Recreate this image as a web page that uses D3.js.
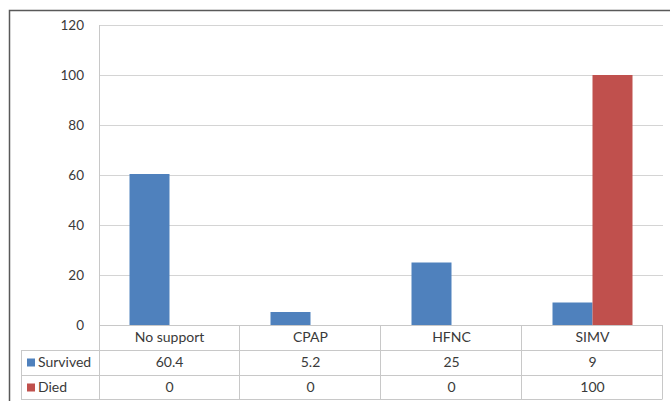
<!DOCTYPE html>
<meta charset="utf-8">
<style>
body { margin: 0; background: #fff; }
text { font-family: Lato, "Open Sans", sans-serif; fill: #3a3a3a; }
</style>
<body>
<script src="https://cdn.jsdelivr.net/npm/d3@7"></script>
<script>

var categories = ["No support", "CPAP", "HFNC", "SIMV"];
var seriesNames = ["Survived", "Died"];
var survived = [60.4, 5.2, 25, 9];
var died = [0, 0, 0, 100];
var yTicks = [0, 20, 40, 60, 80, 100, 120];

var colors = { Survived: "#4f81bd", Died: "#c0504d" };
var values = { Survived: survived, Died: died };

var width = 670, height = 401;
var plotLeft = 99, plotRight = 663, plotTop = 25, plotBottom = 325;
var rowH = 25, tableLeft = 21;

var svg = d3.select("body").append("svg")
    .attr("width", width)
    .attr("height", height);

// outer frame
svg.append("path")
    .attr("d", "M9.5," + height + "V10.5H" + width)
    .attr("fill", "none")
    .attr("stroke", "#595959")
    .attr("stroke-width", 1.5);

var x = d3.scaleBand().domain(categories).range([plotLeft, plotRight]);
var x1 = d3.scaleBand().domain(seriesNames).range([0, x.bandwidth()]).paddingOuter(0.7625);
var y = d3.scaleLinear().domain([0, 120]).range([plotBottom, plotTop]);

// gridlines
svg.append("g").selectAll("line")
    .data(yTicks)
  .enter().append("line")
    .attr("x1", plotLeft).attr("x2", plotRight)
    .attr("y1", function(d) { return Math.round(y(d)) + 0.5; })
    .attr("y2", function(d) { return Math.round(y(d)) + 0.5; })
    .attr("stroke", "#d4d4d4");

// y tick labels
svg.append("g").selectAll("text")
    .data(yTicks)
  .enter().append("text")
    .attr("x", 84)
    .attr("y", function(d) { return y(d); })
    .attr("dy", "0.35em")
    .attr("text-anchor", "end")
    .style("font-size", "13.5px")
    .text(function(d) { return d; });

// bars
var groups = svg.append("g").selectAll("g")
    .data(categories)
  .enter().append("g")
    .attr("transform", function(d) { return "translate(" + x(d) + ",0)"; });

groups.selectAll("rect")
    .data(function(d, i) {
      return seriesNames.map(function(s) { return { key: s, value: values[s][i] }; });
    })
  .enter().append("rect")
    .attr("x", function(d) { return x1(d.key); })
    .attr("width", x1.bandwidth())
    .attr("y", function(d) { return y(d.value); })
    .attr("height", function(d) { return y(0) - y(d.value); })
    .attr("fill", function(d) { return colors[d.key]; });

// data table
var table = svg.append("g").attr("stroke", "#c8c8c8").attr("fill", "none");
var tableBottom = plotBottom + rowH * 3 - 1;

// vertical axis line through table
table.append("line")
    .attr("x1", plotLeft + 0.5).attr("x2", plotLeft + 0.5)
    .attr("y1", plotTop).attr("y2", tableBottom);

// category separators
categories.forEach(function(c) {
  var xr = Math.round(x(c) + x.bandwidth()) - 0.5;
  table.append("line")
      .attr("x1", xr).attr("x2", xr)
      .attr("y1", plotBottom).attr("y2", tableBottom);
});

table.append("line")
    .attr("x1", tableLeft + 0.5).attr("x2", tableLeft + 0.5)
    .attr("y1", plotBottom + rowH).attr("y2", tableBottom);

// horizontal lines
[0, 1, 2, 3].forEach(function(r) {
  var yy = plotBottom + r * rowH + (r === 3 ? -1 : 0) + 0.5;
  table.append("line")
      .attr("x1", r === 0 ? plotLeft : tableLeft).attr("x2", plotRight - 0.5)
      .attr("y1", yy).attr("y2", yy);
});

// header row
svg.append("g").selectAll("text")
    .data(categories)
  .enter().append("text")
    .attr("x", function(d) { return x(d) + x.bandwidth() / 2; })
    .attr("y", plotBottom + rowH / 2)
    .attr("dy", "0.35em")
    .attr("text-anchor", "middle")
    .style("font-size", "14px")
    .text(function(d) { return d; });

// series rows
seriesNames.forEach(function(s, r) {
  var cy = plotBottom + rowH * (r + 1) + rowH / 2;
  svg.append("rect")
      .attr("x", 27).attr("y", cy - 4)
      .attr("width", 8).attr("height", 8)
      .attr("fill", colors[s]);
  svg.append("text")
      .attr("x", 38).attr("y", cy)
      .attr("dy", "0.35em")
      .style("font-size", "14px")
      .text(s);
  svg.append("g").selectAll("text")
      .data(values[s])
    .enter().append("text")
      .attr("x", function(d, i) { return x(categories[i]) + x.bandwidth() / 2; })
      .attr("y", cy)
      .attr("dy", "0.35em")
      .attr("text-anchor", "middle")
      .style("font-size", "14px")
      .text(function(d) { return d; });
});

</script>
